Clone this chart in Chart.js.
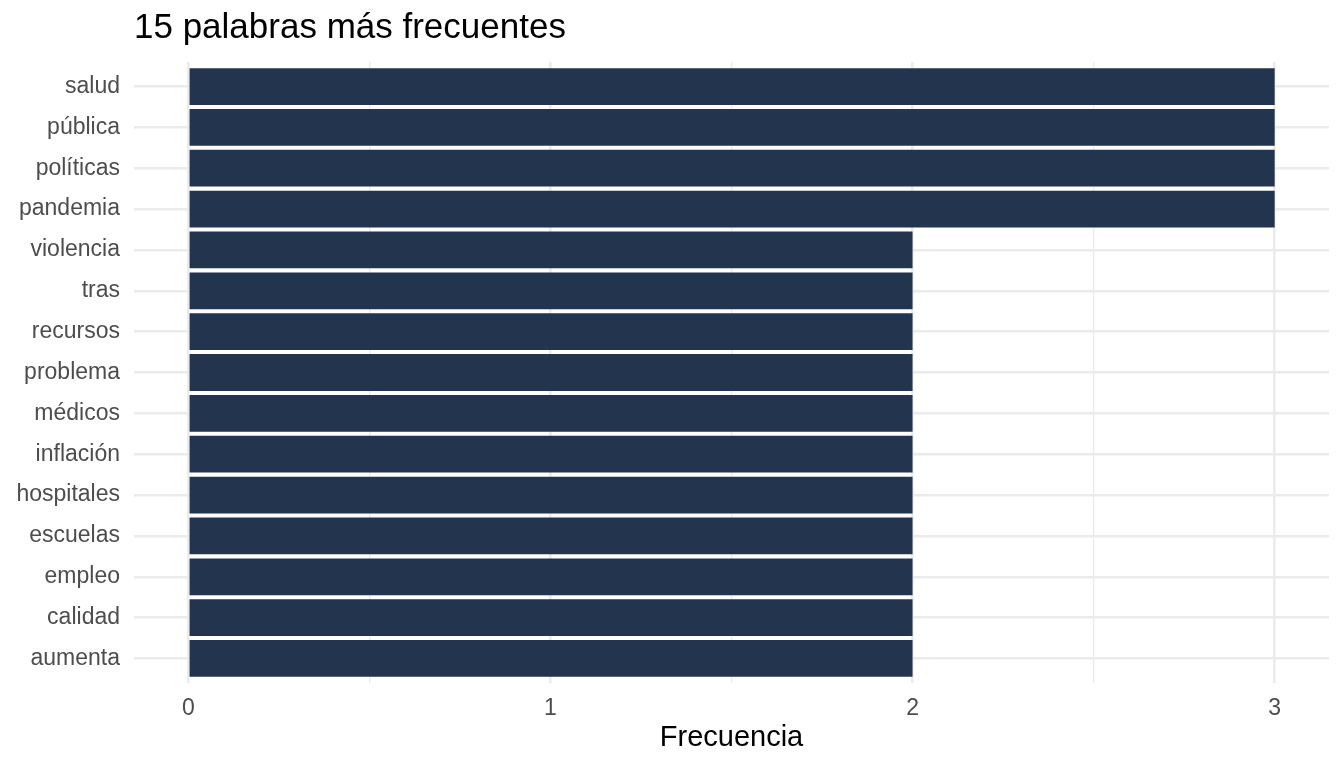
<!DOCTYPE html>
<html>
<head>
<meta charset="utf-8">
<script src="https://cdn.jsdelivr.net/npm/chart.js@4"></script>
<style>
html,body{margin:0;padding:0;background:#fff;}
#wrap{width:1344px;height:768px;}
</style>
</head>
<body>
<div id="wrap"><canvas id="c" width="1344" height="768"></canvas></div>
<script>
const titulo='15 palabras más frecuentes';
const palabras=['salud','pública','políticas','pandemia','violencia','tras','recursos','problema','médicos','inflación','hospitales','escuelas','empleo','calidad','aumenta'];
const frecuencia=[3,3,3,3,2,2,2,2,2,2,2,2,2,2,2];
const xTicks=[0,0.5,1,1.5,2,2.5,3];

const grid='#EBEBEB';
const font='"Liberation Sans", Arial, Helvetica, sans-serif';

const tituloPlugin={
  id:'titulo',
  afterDraw(ch){
    const c=ch.ctx;
    c.save();
    c.font='35px '+font;
    c.fillStyle='#000';
    c.textBaseline='alphabetic';
    c.textAlign='left';
    c.fillText(titulo,ch.chartArea.left,38);
    c.restore();
  }
};

new Chart(document.getElementById('c'),{
  type:'bar',
  data:{
    datasets:[{
      data:palabras.map((p,i)=>({x:frecuencia[i],y:i+1})),
      backgroundColor:'#23344F',
      borderWidth:0,
      barPercentage:0.9,
      categoryPercentage:1
    }]
  },
  options:{
    indexAxis:'y',
    responsive:false,
    animation:false,
    layout:{padding:{top:62,right:15,left:0,bottom:0}},
    plugins:{legend:{display:false},tooltip:{enabled:false},title:{display:false}},
    scales:{
      x:{
        type:'linear',min:-0.15,max:3.15,
        afterBuildTicks:s=>{s.ticks=xTicks.map(v=>({value:v}));},
        afterFit:s=>{s.height=85;},
        grid:{color:grid,lineWidth:ctx=>(ctx.tick&&Number.isInteger(ctx.tick.value))?2.5:1.3,drawTicks:false},
        border:{display:false},
        ticks:{
          color:'#4D4D4D',font:{family:font,size:23},padding:12,
          callback:v=>Number.isInteger(v)?String(v):''
        },
        title:{display:true,text:'Frecuencia',color:'#000',font:{family:font,size:29},padding:{top:0,bottom:13}}
      },
      y:{
        type:'linear',min:0.4,max:15.6,reverse:true,offset:false,
        afterBuildTicks:s=>{s.ticks=palabras.map((_,i)=>({value:i+1}));},
        afterFit:s=>{s.width=134;},
        grid:{color:grid,lineWidth:2.5,drawTicks:false,offset:false},
        border:{display:false},
        ticks:{
          color:'#4D4D4D',font:{family:font,size:23},padding:14,
          callback:v=>palabras[v-1]
        }
      }
    }
  },
  plugins:[tituloPlugin]
});
</script>
</body>
</html>
